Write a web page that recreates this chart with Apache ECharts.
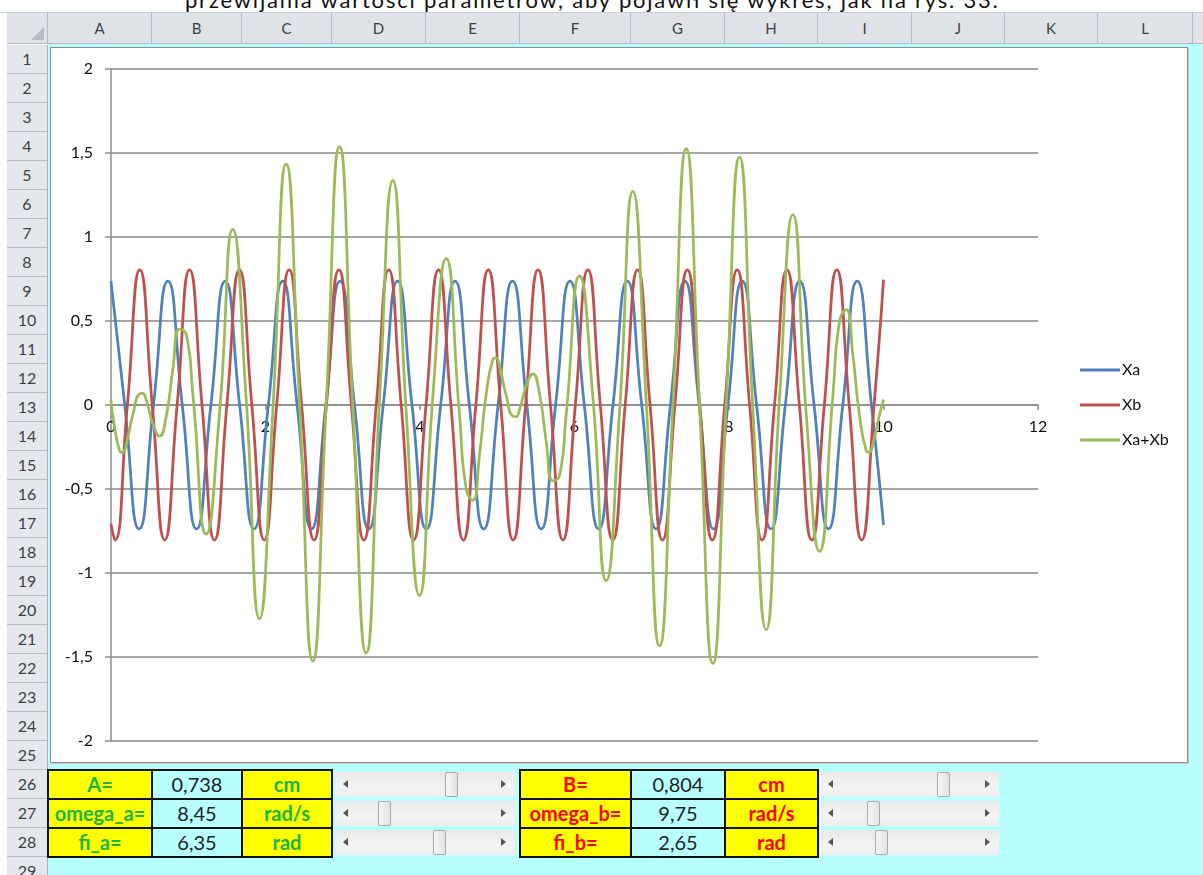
<!DOCTYPE html>
<html><head><meta charset="utf-8">
<script src="https://cdn.jsdelivr.net/npm/echarts@6/dist/echarts.min.js"></script>
<style>
html,body{margin:0;padding:0;width:1203px;height:875px;overflow:hidden;background:#fff;font-family:Lato,'Noto Sans',sans-serif;}
#sheet{position:absolute;left:0;top:0;width:1203px;height:875px;overflow:hidden;}
.abs{position:absolute;box-sizing:border-box;white-space:nowrap;}
#chart{position:absolute;left:0;top:0;width:1203px;height:875px;}
</style></head>
<body>
<div id="sheet"></div>
<div id="chart"></div>
<script>
// ---------------- data ----------------
const seriesNames = ['Xa', 'Xb', 'Xa+Xb'];
const seriesColors = ['#4F81BD', '#C0504D', '#9BBB59'];

const xaPoints = [
  [0, 0.736], [0.178, 0], [0.364, -0.738], [0.550, 0], [0.736, 0.738], [0.922, 0], [1.107, -0.738], [1.293, 0],
  [1.479, 0.738], [1.665, 0], [1.851, -0.738], [2.037, 0], [2.223, 0.738], [2.409, 0], [2.595, -0.738], [2.781, 0],
  [2.966, 0.738], [3.152, 0], [3.338, -0.738], [3.524, 0], [3.710, 0.738], [3.896, 0], [4.082, -0.738], [4.268, 0],
  [4.454, 0.738], [4.639, 0], [4.825, -0.738], [5.011, 0], [5.197, 0.738], [5.383, 0], [5.569, -0.738], [5.755, 0],
  [5.941, 0.738], [6.127, 0], [6.313, -0.738], [6.498, 0], [6.684, 0.738], [6.870, 0], [7.056, -0.738], [7.242, 0],
  [7.428, 0.738], [7.614, 0], [7.800, -0.738], [7.986, 0], [8.171, 0.738], [8.357, 0], [8.543, -0.738], [8.729, 0],
  [8.915, 0.738], [9.101, 0], [9.287, -0.738], [9.473, 0], [9.659, 0.738], [9.844, 0], [10, -0.714]
];

const xbPoints = [
  [0, -0.709], [0.050, -0.804], [0.212, 0], [0.373, 0.804], [0.534, 0], [0.695, -0.804], [0.856, 0], [1.017, 0.804],
  [1.178, 0], [1.339, -0.804], [1.500, 0], [1.662, 0.804], [1.823, 0], [1.984, -0.804], [2.145, 0], [2.306, 0.804],
  [2.467, 0], [2.628, -0.804], [2.789, 0], [2.950, 0.804], [3.112, 0], [3.273, -0.804], [3.434, 0], [3.595, 0.804],
  [3.756, 0], [3.917, -0.804], [4.078, 0], [4.239, 0.804], [4.400, 0], [4.561, -0.804], [4.723, 0], [4.884, 0.804],
  [5.045, 0], [5.206, -0.804], [5.367, 0], [5.528, 0.804], [5.689, 0], [5.850, -0.804], [6.011, 0], [6.173, 0.804],
  [6.334, 0], [6.495, -0.804], [6.656, 0], [6.817, 0.804], [6.978, 0], [7.139, -0.804], [7.300, 0], [7.461, 0.804],
  [7.622, 0], [7.784, -0.804], [7.945, 0], [8.106, 0.804], [8.267, 0], [8.428, -0.804], [8.589, 0], [8.750, 0.804],
  [8.911, 0], [9.072, -0.804], [9.234, 0], [9.395, 0.804], [9.556, 0], [9.717, -0.804], [9.878, 0], [10, 0.746]
];

const sumPoints = [
  [0, 0.028], [0.023, -0.064], [0.110, -0.271], [0.150, -0.282], [0.197, -0.233], [0.283, -0.058], [0.370, 0.066],
  [0.410, 0.069], [0.456, 0.029], [0.542, -0.112], [0.628, -0.186], [0.715, -0.065], [0.801, 0.215], [0.887, 0.451],
  [0.974, 0.421], [1.060, 0.061], [1.232, -0.768], [1.404, -0.053], [1.577, 1.046], [1.749, 0.043], [1.922, -1.272],
  [2.095, -0.031], [2.267, 1.434], [2.440, 0.017], [2.613, -1.524], [2.785, -0.003], [2.958, 1.538], [3.130, -0.012],
  [3.303, -1.475], [3.476, 0.026], [3.648, 1.337], [3.821, -0.039], [3.993, -1.133], [4.166, 0.050], [4.339, 0.871],
  [4.511, -0.058], [4.598, -0.499], [4.684, -0.567], [4.770, -0.299], [4.857, 0.064], [4.943, 0.271], [4.984, 0.281],
  [5.029, 0.233], [5.115, 0.058], [5.202, -0.066], [5.244, -0.069], [5.288, -0.029], [5.374, 0.112], [5.461, 0.186],
  [5.547, 0.065], [5.633, -0.215], [5.720, -0.451], [5.806, -0.421], [5.892, -0.061], [6.065, 0.768], [6.237, 0.053],
  [6.410, -1.046], [6.583, -0.043], [6.755, 1.272], [6.928, 0.031], [7.101, -1.434], [7.273, -0.017], [7.446, 1.524],
  [7.618, 0.003], [7.791, -1.538], [7.964, 0.012], [8.136, 1.475], [8.309, -0.026], [8.481, -1.337], [8.654, 0.039],
  [8.827, 1.133], [8.999, -0.050], [9.172, -0.872], [9.345, 0.058], [9.431, 0.499], [9.517, 0.567], [9.603, 0.299],
  [9.690, -0.064], [9.776, -0.271], [9.817, -0.281], [9.862, -0.233], [9.949, -0.058], [10, 0.032]
];

const xAxisRange = [0, 12];
const xAxisStep = 2;
const yAxisRange = [-2, 2];
const yAxisStep = 0.5;

const captionText = 'przewijania wartości parametrów, aby pojawił się wykres, jak na rys. 33.';
const columnLetters = ['A', 'B', 'C', 'D', 'E', 'F', 'G', 'H', 'I', 'J', 'K', 'L', 'M'];
const leftLabels = ['A=', 'omega_a=', 'fi_a='];
const leftValues = ['0,738', '8,45', '6,35'];
const leftUnits = ['cm', 'rad/s', 'rad'];
const rightLabels = ['B=', 'omega_b=', 'fi_b='];
const rightValues = ['0,804', '9,75', '2,65'];
const rightUnits = ['cm', 'rad/s', 'rad'];

// ---------------- layout / style ----------------
const columnEdges = [48, 152, 242, 332, 426, 520, 631, 725, 818, 912, 1005, 1098, 1193, 1290];
const rowTop0 = 45, rowH = 29, rowCount = 29;
const leftThumbX = [445, 378, 433];
const rightThumbX = [937, 867, 875];
const CYAN = '#b8ffff';

const sheet = document.getElementById('sheet');
function box(x, y, w, h, style, text) {
  const d = document.createElement('div');
  d.className = 'abs';
  d.style.left = x + 'px'; d.style.top = y + 'px';
  d.style.width = w + 'px'; d.style.height = h + 'px';
  Object.assign(d.style, style || {});
  if (text != null) d.textContent = text;
  sheet.appendChild(d);
  return d;
}

// caption (cut off by page top)
const cap = box(185, -11, null, 30, {fontSize: '22px', lineHeight: '22px', color: '#111', width: 'auto', height: 'auto'}, captionText);
const capW = cap.offsetWidth;
cap.style.letterSpacing = ((815 - capW) / captionText.length).toFixed(3) + 'px';

// header band
box(0, 12, 1203, 1, {background: '#c9d0d9'});
box(7, 13, 1196, 31, {background: '#dfe3e8', borderBottom: '1px solid #b3bac4'});
// corner
box(7, 13, 41, 31, {background: '#dfe3e8', borderRight: '1px solid #b3bac4', borderBottom: '1px solid #b3bac4'});
box(31, 27, 0, 0, {borderLeft: '13px solid transparent', borderBottom: '13px solid #b9bdc2', width: '0px', height: '0px'});
// column headers
for (let i = 0; i < columnLetters.length; i++) {
  const x0 = columnEdges[i], x1 = columnEdges[i + 1];
  box(x0, 13, x1 - x0, 31, {borderRight: '1px solid #b3bac4', textAlign: 'center', lineHeight: '31px',
    fontSize: '15px', color: '#3c4046'}, columnLetters[i]);
}
// cell area
box(48, 44, 1155, 831, {background: CYAN});
// row headers
for (let r = 1; r <= rowCount; r++) {
  const y = rowTop0 + rowH * (r - 1);
  box(7, y, 41, rowH, {background: '#e4e8ed', borderBottom: '1px solid #b8bec6', borderRight: '1px solid #a9b3bf',
    textAlign: 'center', lineHeight: (rowH - 1) + 'px', fontSize: '16px', color: '#3c4046'}, String(r));
}
// chart box
box(50, 47, 1138, 716, {background: '#fff', border: '1px solid #8f8f8f', boxShadow: '1px 1px 0 #c8c8c8'});

// parameter tables
function cellBlock(colIdx, labels, values, units, textColor) {
  for (let r = 0; r < 3; r++) {
    const y = rowTop0 + rowH * (25 + r);
    const cols = [labels[r], values[r], units[r]];
    for (let c = 0; c < 3; c++) {
      const x0 = columnEdges[colIdx + c], x1 = columnEdges[colIdx + c + 1];
      const isVal = c === 1;
      box(x0 - 1, y - 1, x1 - x0 + 2, rowH + 2, {
        background: isVal ? CYAN : '#ffff00', border: '2px solid #111', textAlign: 'center',
        lineHeight: (rowH - 2) + 'px', fontSize: '20px', fontWeight: isVal ? '400' : '700',
        color: isVal ? '#222' : textColor
      }, cols[c]);
    }
  }
}
cellBlock(0, leftLabels, leftValues, leftUnits, '#19b54a');
cellBlock(5, rightLabels, rightValues, rightUnits, '#ff0000');

// scrollbars
function scrollbar(x, w, r, thumbX) {
  const y = rowTop0 + rowH * (25 + r) + 2;
  box(x, y, w, 25, {background: 'linear-gradient(#e9e9e9,#f4f4f4 60%,#ededed)'});
  box(x + 8, y + 8, 0, 0, {borderRight: '5px solid #555', borderTop: '4px solid transparent', borderBottom: '4px solid transparent', width: '0px', height: '0px'});
  box(x + w - 14, y + 8, 0, 0, {borderLeft: '5px solid #555', borderTop: '4px solid transparent', borderBottom: '4px solid transparent', width: '0px', height: '0px'});
  box(thumbX, y, 13, 25, {background: 'linear-gradient(90deg,#f7f7f7,#e2e2e2)', border: '1px solid #a9a9a9', borderRadius: '2px'});
}
for (let r = 0; r < 3; r++) {
  scrollbar(335, 180, r, leftThumbX[r]);
  scrollbar(820, 179, r, rightThumbX[r]);
}

// ---------------- chart ----------------
const chart = echarts.init(document.getElementById('chart'), null, {renderer: 'canvas', width: 1203, height: 875});
const axisGray = '#8a8a8a';
const lineData = [xaPoints, xbPoints, sumPoints];
const gridTop = 69, gridHeight = 672;
// x axis drawn at value 0 of the y axis (Excel style): offset from bottom edge of grid
const zeroOffset = -gridHeight * (0 - yAxisRange[0]) / (yAxisRange[1] - yAxisRange[0]);
chart.setOption({
  animation: false,
  backgroundColor: 'transparent',
  textStyle: {fontFamily: 'Lato'},
  grid: {left: 111, top: gridTop, width: 927, height: gridHeight, containLabel: false},
  xAxis: {
    type: 'value', min: xAxisRange[0], max: xAxisRange[1], interval: xAxisStep,
    position: 'bottom', offset: zeroOffset,
    axisLine: {show: true, onZero: false, lineStyle: {color: axisGray, width: 1.5}},
    axisTick: {show: true, length: 5, lineStyle: {color: axisGray, width: 1.5}},
    axisLabel: {margin: 14, fontSize: 16, color: '#111', fontFamily: 'Lato'},
    splitLine: {show: false}
  },
  yAxis: {
    type: 'value', min: yAxisRange[0], max: yAxisRange[1], interval: yAxisStep,
    axisLine: {show: true, onZero: false, lineStyle: {color: axisGray, width: 1.5}},
    axisTick: {show: true, length: 6, lineStyle: {color: axisGray, width: 1.5}},
    axisLabel: {margin: 18, fontSize: 16, color: '#111', fontFamily: 'Lato',
      formatter: v => String(v).replace('.', ',')},
    splitLine: {show: true, lineStyle: {color: axisGray, width: 1.5}}
  },
  legend: {
    orient: 'vertical', left: 1075, top: 357, itemWidth: 40, itemHeight: 3, itemGap: 19,
    icon: 'rect',
    textStyle: {fontSize: 16, color: '#111', fontFamily: 'Lato', padding: [0, 0, 0, -3]},
    data: seriesNames
  },
  series: seriesNames.map((name, i) => ({
    name: name, type: 'line', data: lineData[i], smooth: 0.55, symbol: 'none', showSymbol: false,
    clip: true, z: 2 + i,
    lineStyle: {width: 2.75, color: seriesColors[i]},
    itemStyle: {color: seriesColors[i]}
  }))
});
</script>
</body></html>
